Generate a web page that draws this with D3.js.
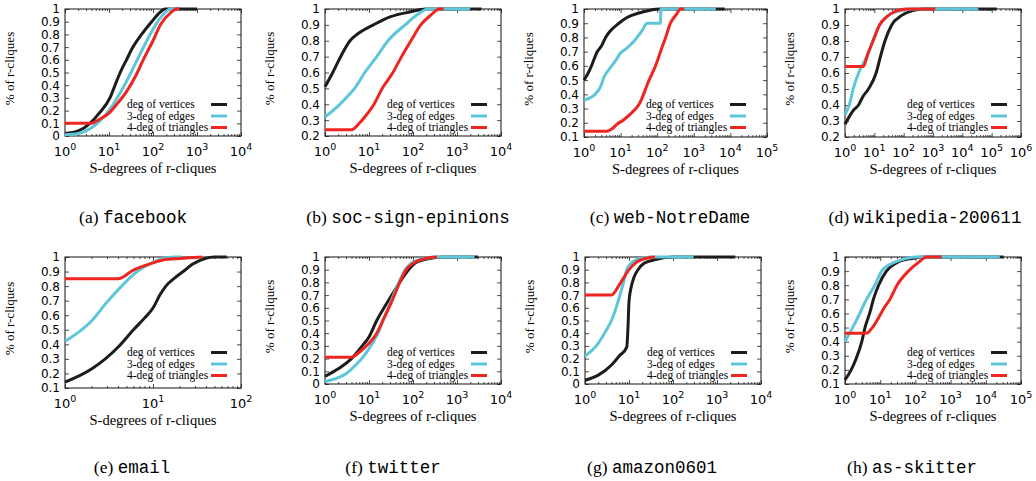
<!DOCTYPE html>
<html>
<head>
<meta charset="utf-8">
<script src="https://cdn.jsdelivr.net/npm/d3@7"></script>
<style>
body { margin: 0; background: #fff; }
</style>
</head>
<body>
<svg id="chart" width="1036" height="481"></svg>
<script>
// panels and axis ranges
var panelIds = ['a','b','c','d','e','f','g','h'];
var panelNames = ['facebook','soc-sign-epinions','web-NotreDame','wikipedia-200611',
                  'email','twitter','amazon0601','as-skitter'];
var xMaxExp = [4,4,5,6,2,4,4,5];
var yMin = [0,0.2,0.1,0.2,0.1,0,0,0.1];
var seriesLabels = ['deg of vertices','3-deg of edges','4-deg of triangles'];

// curves: [S-degree, fraction]
var facebookVertices = [[1,0.02],[2,0.04],[3.7,0.1],[6,0.18],[10.5,0.3],[13.7,0.4],[18,0.5],[25,0.6],[35,0.7],[55,0.8],[93,0.9],[140,0.97],[190,1],[1000,1]];
var facebookEdges = [[1,0.01],[2,0.02],[3,0.04],[5,0.09],[8,0.16],[12,0.24],[18,0.34],[25,0.43],[35,0.53],[50,0.64],[70,0.74],[100,0.84],[140,0.92],[200,0.98],[250,1],[300,1]];
var facebookTriangles = [[1,0.1],[4,0.1],[6,0.13],[10,0.18],[15,0.25],[25,0.35],[40,0.47],[60,0.6],[100,0.75],[150,0.88],[250,0.97],[350,1],[400,1]];

var socVertices = [[1,0.51],[1.5,0.6],[2,0.67],[3.7,0.8],[6,0.85],[12.6,0.9],[30,0.95],[80,0.98],[200,1],[3600,1]];
var socEdges = [[1,0.32],[2,0.39],[3,0.44],[5,0.51],[8,0.6],[15,0.7],[27,0.8],[66,0.9],[120,0.96],[220,1],[2000,1]];
var socTriangles = [[1,0.24],[4,0.24],[6,0.28],[8,0.32],[13,0.4],[20,0.5],[35,0.6],[55,0.7],[90,0.8],[150,0.9],[250,0.96],[400,1],[500,1]];

var webVertices = [[1,0.5],[1.3,0.55],[1.6,0.6],[2.3,0.7],[3,0.74],[3.9,0.8],[5,0.84],[9,0.9],[15,0.94],[30,0.97],[60,0.99],[120,1],[7000,1]];
var webEdges = [[1,0.36],[2,0.4],[2.8,0.45],[3.5,0.52],[5,0.58],[7,0.63],[10,0.69],[14,0.72],[19,0.75],[28,0.8],[39,0.85],[53,0.9],[123,0.9],[126,1],[4000,1]];
var webTriangles = [[1,0.14],[4,0.14],[6,0.16],[8,0.19],[12,0.22],[20,0.27],[32,0.33],[60,0.5],[90,0.6],[123,0.7],[170,0.8],[230,0.9],[330,0.96],[435,1],[550,1]];

var wikiVertices = [[1,0.28],[2,0.37],[2.9,0.4],[4,0.45],[6.3,0.5],[11.5,0.6],[16,0.7],[23,0.8],[39,0.9],[86,0.96],[200,0.99],[500,1],[150000,1]];
var wikiEdges = [[1,0.34],[1.4,0.4],[1.9,0.5],[2.9,0.6],[4.2,0.66],[5.5,0.7],[9,0.8],[15,0.9],[30,0.96],[80,0.99],[200,1],[35000,1]];
var wikiTriangles = [[1,0.64],[4.2,0.64],[6,0.72],[9,0.8],[15,0.9],[26,0.95],[60,0.99],[120,1],[1200,1]];

var emailVertices = [[1,0.14],[2,0.23],[4,0.38],[6,0.5],[8,0.58],[10,0.65],[12,0.74],[14,0.8],[18,0.86],[22,0.9],[28,0.95],[39,0.99],[50,1],[69,1]];
var emailEdges = [[1,0.42],[2,0.56],[3,0.69],[4.4,0.8],[6.6,0.9],[9,0.95],[13,0.99],[17,1],[21,1]];
var emailTriangles = [[1,0.85],[4,0.85],[6,0.91],[8,0.94],[10,0.96],[13,0.98],[20,0.99],[36,1]];

var twitterVertices = [[1,0.06],[2,0.12],[4,0.2],[7,0.3],[10,0.37],[15,0.5],[22,0.6],[33,0.7],[50,0.8],[79,0.9],[120,0.96],[250,0.99],[500,1],[3000,1]];
var twitterEdges = [[1,0.02],[2,0.05],[3,0.08],[5,0.15],[8,0.23],[12,0.32],[17,0.42],[22,0.52],[30,0.63],[45,0.78],[66,0.9],[100,0.96],[200,0.99],[300,1],[2500,1]];
var twitterTriangles = [[1,0.21],[4,0.21],[6,0.25],[10,0.32],[15,0.4],[22,0.52],[33,0.65],[50,0.8],[70,0.9],[100,0.95],[200,0.99],[350,1]];

var amazonVertices = [[1,0.03],[2,0.07],[4,0.15],[6,0.22],[8.9,0.29],[9.5,0.45],[10,0.65],[11,0.75],[13,0.84],[16,0.9],[22,0.95],[40,0.98],[100,1],[2600,1]];
var amazonEdges = [[1,0.22],[2,0.32],[3,0.42],[4,0.5],[6,0.68],[7.5,0.8],[8.9,0.9],[11,0.95],[15,0.98],[20,0.99],[30,1],[294,1]];
var amazonTriangles = [[1,0.7],[4,0.7],[6,0.78],[8,0.85],[10,0.9],[15,0.96],[25,0.99],[39,1]];

var skitterVertices = [[1,0.13],[1.5,0.2],[2,0.27],[3,0.4],[3.7,0.5],[5,0.6],[6.4,0.7],[9,0.8],[15,0.9],[30,0.96],[80,0.99],[200,1],[32000,1]];
var skitterEdges = [[1,0.4],[2,0.54],[4.1,0.7],[7,0.8],[11,0.9],[20,0.95],[40,0.98],[100,1],[25000,1]];
var skitterTriangles = [[1,0.46],[4.1,0.46],[6,0.5],[9,0.57],[13,0.64],[19,0.7],[30,0.8],[63,0.9],[120,0.96],[210,1],[560,1]];

var panelSeries = [
  [facebookVertices, facebookEdges, facebookTriangles],
  [socVertices, socEdges, socTriangles],
  [webVertices, webEdges, webTriangles],
  [wikiVertices, wikiEdges, wikiTriangles],
  [emailVertices, emailEdges, emailTriangles],
  [twitterVertices, twitterEdges, twitterTriangles],
  [amazonVertices, amazonEdges, amazonTriangles],
  [skitterVertices, skitterEdges, skitterTriangles]
];

// layout of each plot box (pixels) and caption centre
var boxes = [
  {l:65, t:9, r:241, b:136}, {l:325, t:9, r:501, b:136},
  {l:584, t:9, r:767, b:137}, {l:845, t:9, r:1021, b:137},
  {l:65, t:257, r:241, b:388}, {l:325, t:257, r:501, b:384},
  {l:585, t:257, r:761, b:384}, {l:845, t:257, r:1021, b:384}
];
var captionX = [133, 408, 670, 925, 132, 393, 652, 912];
var colors = ['#1c1c1c', '#5ec6d9', '#ee2520'];

var svg = d3.select('#chart');
var serif = '"Liberation Serif", "DejaVu Serif", serif';
var sans = '"DejaVu Sans", sans-serif';

panelIds.forEach(function(id, i){
    var box = boxes[i];
    var x = d3.scaleLog().domain([1, Math.pow(10, xMaxExp[i])]).range([box.l, box.r]);
    var y = d3.scaleLinear().domain([yMin[i], 1]).range([box.b, box.t]);
    var g = svg.append('g');

    var decades = d3.range(0, xMaxExp[i] + 1).map(function(e){ return Math.pow(10, e); });
    var minors = [];
    decades.slice(0, -1).forEach(function(d){
        for (var k = 2; k < 10; k++) minors.push(d * k);
    });
    var yTicks = d3.range(Math.round(yMin[i] * 10), 11).map(function(v){ return v / 10; });

    // tick marks, inside the box, mirrored
    function marks(axis, tx, ty){
        var a = g.append('g').attr('transform', 'translate(' + tx + ',' + ty + ')').call(axis);
        a.select('.domain').remove();
        a.selectAll('line').attr('stroke', '#222').attr('stroke-width', 0.8);
    }
    marks(d3.axisBottom(x).tickValues(decades).tickSize(-4).tickFormat(''), 0, box.b);
    marks(d3.axisBottom(x).tickValues(minors).tickSize(-2).tickFormat(''), 0, box.b);
    marks(d3.axisTop(x).tickValues(decades).tickSize(-4).tickFormat(''), 0, box.t);
    marks(d3.axisTop(x).tickValues(minors).tickSize(-2).tickFormat(''), 0, box.t);
    marks(d3.axisLeft(y).tickValues(yTicks).tickSize(-4).tickFormat(''), box.l, 0);
    marks(d3.axisRight(y).tickValues(yTicks).tickSize(-4).tickFormat(''), box.r, 0);

    g.append('rect')
        .attr('x', box.l).attr('y', box.t)
        .attr('width', box.r - box.l).attr('height', box.b - box.t)
        .attr('fill', 'none').attr('stroke', '#111').attr('stroke-width', 1);

    // y tick labels
    g.selectAll('.ylab').data(yTicks).enter().append('text')
        .attr('x', box.l - 5)
        .attr('y', function(d){ return y(d) + 4.4; })
        .attr('text-anchor', 'end')
        .style('font-family', sans).style('font-size', '12px')
        .text(d3.format('~g'));

    // x tick labels as 10^n
    var xl = g.selectAll('.xlab').data(decades).enter().append('text')
        .attr('x', function(d){ return x(d); })
        .attr('y', box.b + 19.5)
        .attr('text-anchor', 'middle')
        .style('font-family', sans).style('font-size', '13px');
    xl.append('tspan').text('10');
    xl.append('tspan').attr('dy', -5.5).style('font-size', '9.5px')
        .text(function(d){ return Math.round(Math.log10(d)); });

    // axis titles
    g.append('text')
        .attr('x', (box.l + box.r) / 2).attr('y', box.b + 37)
        .attr('text-anchor', 'middle')
        .style('font-family', serif).style('font-size', '14.5px')
        .text('S-degrees of r-cliques');
    g.append('text')
        .attr('transform', 'translate(' + (box.l - 51) + ',' + ((box.t + box.b) / 2 - 4) + ') rotate(-90)')
        .attr('text-anchor', 'middle')
        .style('font-family', serif).style('font-size', '13px')
        .text('% of r-cliques');

    // curves
    var line = d3.line()
        .x(function(d){ return x(d[0]); })
        .y(function(d){ return y(d[1]); })
        .curve(d3.curveMonotoneX);
    panelSeries[i].forEach(function(s, k){
        g.append('path')
            .attr('d', line(s))
            .attr('fill', 'none')
            .attr('stroke', colors[k])
            .attr('stroke-width', 3)
            .attr('stroke-linejoin', 'round');
    });

    // legend
    seriesLabels.forEach(function(lab, k){
        var cy = box.t + 95.5 + k * 11.5;
        g.append('text')
            .attr('x', box.l + 62).attr('y', cy + 3.8)
            .style('font-family', serif).style('font-size', '11.5px')
            .text(lab);
        g.append('line')
            .attr('x1', box.l + 146).attr('x2', box.l + 162)
            .attr('y1', cy).attr('y2', cy)
            .attr('stroke', colors[k]).attr('stroke-width', 3);
    });

    // caption
    var cap = svg.append('text')
        .attr('x', captionX[i]).attr('y', i < 4 ? 223 : 473)
        .attr('text-anchor', 'middle')
        .style('font-size', '17.5px');
    cap.append('tspan').style('font-family', serif).text('(' + id + ') ');
    cap.append('tspan').style('font-family', '"Liberation Mono", "DejaVu Sans Mono", monospace')
        .text(panelNames[i]);
});
</script>
</body>
</html>
